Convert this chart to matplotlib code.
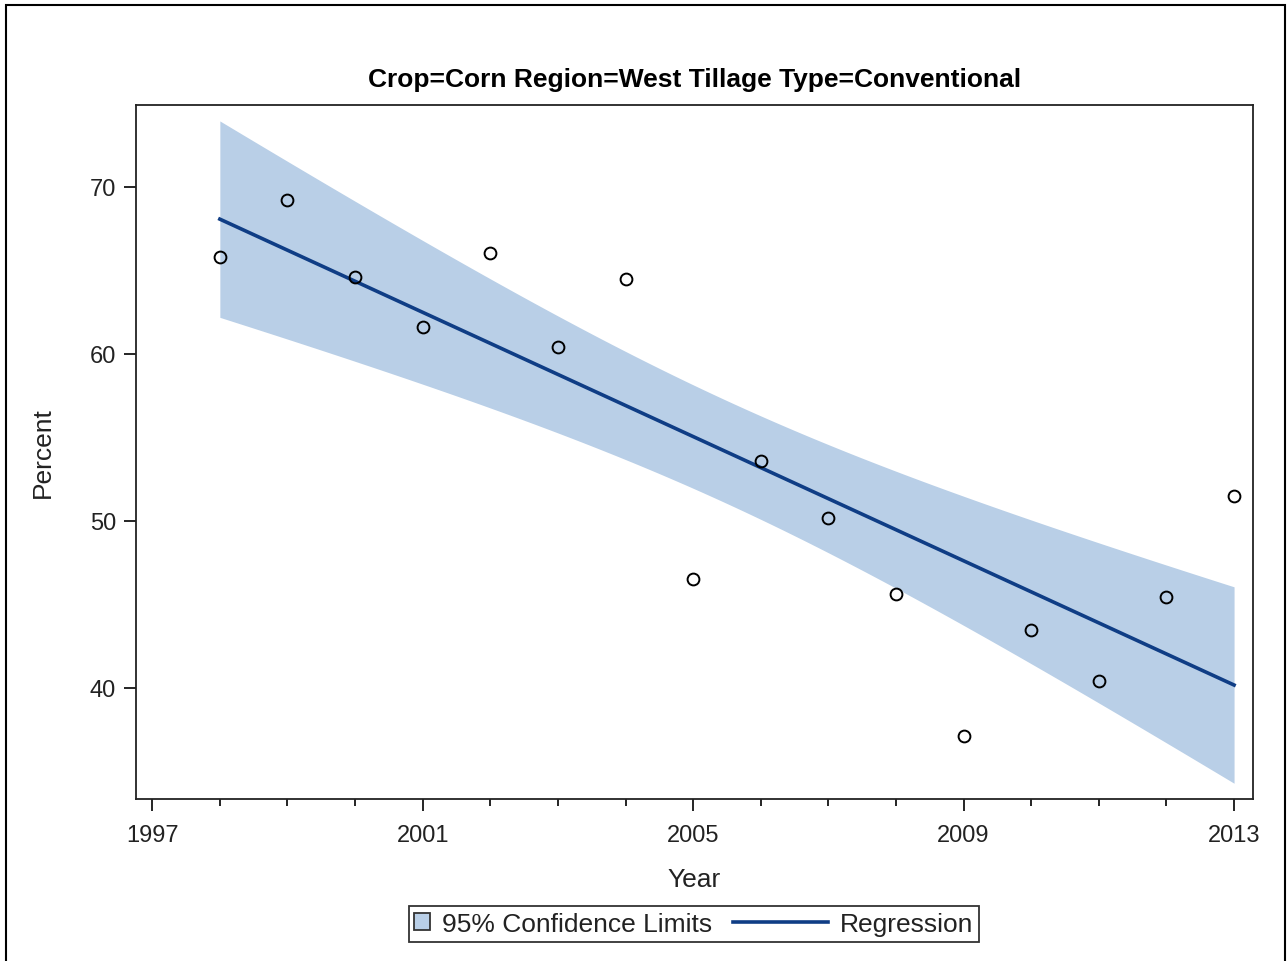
"""
Corn / West / Conventional tillage: percent by year with linear fit
and 95% confidence band for the mean.
"""

import numpy as np
import matplotlib
matplotlib.use('Agg')
import matplotlib.pyplot as plt
from matplotlib.legend_handler import HandlerLine2D
from matplotlib.lines import Line2D
from matplotlib.patches import Patch, Rectangle

plt.rcParams['font.family'] = ['Liberation Sans', 'DejaVu Sans']

years = np.arange(1998, 2014)
percent = [65.8, 69.2, 64.6, 61.6, 66.05, 60.4, 64.5, 46.5,
           53.6, 50.2, 45.6, 37.1, 43.5, 40.4, 45.45, 51.5]

title = 'Crop=Corn Region=West Tillage Type=Conventional'
xticks = [1997, 2001, 2005, 2009, 2013]
yticks = [40, 50, 60, 70]

band_color = '#b9cfe7'
fit_color = '#0f3d85'

# t(0.975, df = n - 2 = 14)
T_975 = 2.144787


class LongLine(HandlerLine2D):
    # line handle that reaches further left than the handle box
    def __init__(self, extra, **kw):
        super().__init__(**kw)
        self.extra = extra

    def create_artists(self, legend, orig_handle, xdescent, ydescent,
                       width, height, fontsize, trans):
        ext = self.extra * fontsize
        return super().create_artists(legend, orig_handle, xdescent + ext,
                                      ydescent, width + ext, height,
                                      fontsize, trans)


def main():
    x = years.astype(float)
    y = np.asarray(percent)
    n = len(x)

    slope, icpt = np.polyfit(x, y, 1)
    resid = y - (slope * x + icpt)
    s = np.sqrt(np.sum(resid ** 2) / (n - 2))
    sxx = np.sum((x - x.mean()) ** 2)

    xf = np.linspace(x.min(), x.max(), 200)
    yf = slope * xf + icpt
    half = T_975 * s * np.sqrt(1.0 / n + (xf - x.mean()) ** 2 / sxx)

    fig = plt.figure(figsize=(12.87, 9.62), dpi=100)
    ax = fig.add_axes([136 / 1287., 1 - 800 / 962., 1117 / 1287., 694 / 962.])

    ax.fill_between(xf, yf - half, yf + half, color=band_color, lw=0, zorder=1)
    ax.plot(xf, yf, color=fit_color, lw=2.6, zorder=2)
    ax.plot(x, y, 'o', ms=8.5, mfc='none', mec='black', mew=1.4, zorder=3)

    ax.set_xlim(1996.76, 2013.28)
    ax.set_ylim(33.35, 74.91)
    ax.set_xticks(xticks)
    ax.set_xticks(np.arange(1997, 2014), minor=True)
    ax.set_yticks(yticks)

    ax.tick_params(axis='both', which='major', length=8.5, width=1.2,
                   labelsize=17, colors='black', labelcolor='#222222')
    ax.tick_params(axis='x', which='major', pad=9.5)
    ax.tick_params(axis='y', which='major', pad=6)
    ax.tick_params(axis='x', which='minor', length=5, width=1.2)
    for sp in ax.spines.values():
        sp.set_linewidth(1.3)
        sp.set_color('#222222')

    ax.set_xlabel('Year', fontsize=19, labelpad=15, color='#222222')
    ax.set_ylabel('Percent', fontsize=19, labelpad=25, color='#222222')
    ax.set_title(title, fontsize=19, fontweight='bold', pad=14)

    handles = [Patch(facecolor=band_color, edgecolor='#333333', lw=1.3),
               Line2D([], [], color=fit_color, lw=2.6)]
    labels = ['95% Confidence Limits', 'Regression']
    leg = fig.legend(handles, labels, loc='center', ncol=2,
                     bbox_to_anchor=(694 / 1287., 1 - 925 / 962.),
                     fontsize=19, frameon=True, fancybox=False,
                     handlelength=0.6, handleheight=0.6, handletextpad=0.45,
                     columnspacing=3.8, borderpad=0.22, borderaxespad=0,
                     handler_map={handles[1]: LongLine(3.0)})
    leg.get_frame().set_edgecolor('black')
    leg.get_frame().set_linewidth(1.3)
    for t in leg.get_texts():
        t.set_color('#222222')

    # outer border of the graph
    fig.patches.append(Rectangle((6 / 1287., -0.01), 1279 / 1287., 1 - 6 / 962. + 0.01,
                                 transform=fig.transFigure, fill=False,
                                 edgecolor='black', lw=1.5))

    fig.savefig('out.png', dpi=100)


if __name__ == '__main__':
    main()
